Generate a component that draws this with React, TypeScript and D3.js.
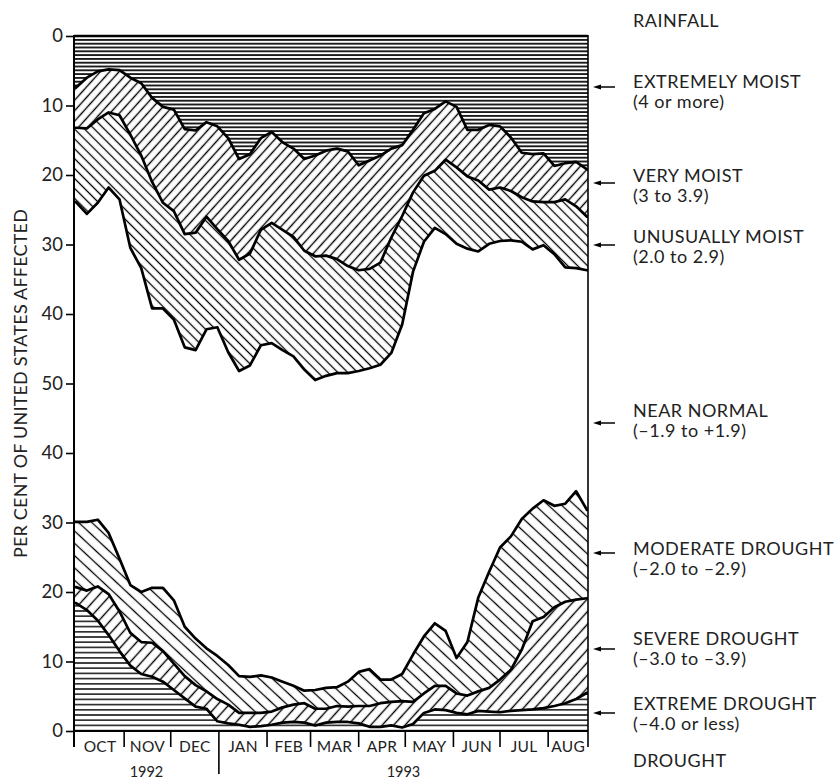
import React, { useEffect, useRef } from "react";
import * as d3 from "d3";

// weekly readings, Oct 1992 - Aug 1993 (per cent of the United States)
const weeks = d3.timeDay.range(new Date(1992, 9, 1), new Date(1993, 7, 27), 7);

const extremelyMoist = [7.4, 6.0, 5.1, 4.8, 4.9, 6.0, 6.8, 8.9, 10.2, 10.6, 13.4, 13.6, 12.4, 13.0, 14.7, 17.7, 17.0, 14.7, 13.8, 15.3, 16.2, 17.7, 17.2, 16.5, 16.2, 16.6, 18.6, 17.9, 17.2, 16.2, 15.7, 13.5, 11.1, 10.5, 9.4, 10.2, 13.5, 13.5, 12.8, 13.0, 14.6, 16.8, 17.0, 16.9, 18.7, 18.3, 18.1, 19.2];
const veryMoist = [5.8, 7.3, 6.9, 6.2, 6.5, 8.2, 10.4, 12.1, 13.8, 14.6, 15.1, 14.7, 13.6, 14.8, 14.8, 14.5, 14.3, 13.2, 13.1, 12.6, 12.7, 13.2, 14.5, 15.1, 15.9, 16.5, 15.1, 15.6, 15.4, 12.8, 10.2, 9.0, 9.0, 8.9, 8.4, 8.7, 6.7, 7.3, 9.3, 8.8, 7.7, 6.4, 6.8, 7.0, 5.2, 5.2, 6.4, 6.8];
const unusuallyMoist = [10.7, 12.3, 12.0, 10.8, 12.1, 16.3, 16.2, 18.2, 15.2, 15.6, 16.3, 16.9, 16.2, 14.1, 16.0, 16.0, 16.1, 16.6, 17.3, 17.3, 17.2, 17.1, 17.8, 17.3, 16.4, 15.4, 14.5, 14.3, 14.7, 16.6, 15.6, 11.4, 9.5, 8.2, 10.7, 11.0, 10.4, 10.2, 7.8, 7.7, 7.1, 6.4, 6.9, 6.2, 7.5, 9.8, 8.9, 7.7];

const extremeDrought = [18.4, 17.4, 15.9, 13.8, 11.5, 9.4, 8.2, 7.8, 7.1, 5.9, 4.7, 3.5, 3.2, 1.4, 1.1, 0.9, 0.6, 0.7, 0.9, 1.2, 1.3, 1.2, 0.8, 1.2, 1.3, 1.3, 1.1, 0.6, 0.6, 0.8, 0.5, 1.0, 2.6, 3.1, 3.0, 2.6, 2.4, 2.9, 2.8, 2.7, 2.9, 3.0, 3.1, 3.3, 3.6, 4.0, 4.6, 5.5];
const severeDrought = [2.3, 2.8, 4.9, 5.9, 5.7, 4.7, 4.6, 4.9, 4.4, 3.8, 3.2, 3.1, 2.5, 3.2, 2.7, 1.7, 2.0, 1.9, 1.9, 2.2, 2.5, 2.8, 2.4, 2.0, 2.3, 2.2, 2.5, 3.0, 3.4, 3.4, 3.8, 3.2, 2.8, 3.4, 3.5, 2.8, 2.7, 2.8, 3.4, 4.7, 5.9, 8.7, 12.7, 13.1, 14.2, 14.6, 14.3, 13.6];
const moderateDrought = [9.4, 9.9, 9.6, 8.8, 7.6, 6.9, 7.2, 7.9, 9.1, 9.1, 7.1, 6.7, 6.2, 6.2, 5.7, 5.3, 5.2, 5.4, 4.9, 3.7, 2.7, 1.8, 2.7, 3.0, 2.7, 3.6, 4.9, 5.3, 3.4, 3.2, 3.9, 6.8, 8.2, 9.0, 7.9, 5.1, 7.7, 13.5, 16.7, 19.0, 19.2, 18.8, 16.2, 16.8, 14.6, 14.1, 15.6, 12.7];

const wetTicks = [0, 10, 20, 30, 40, 50];
const dryTicks = [0, 10, 20, 30, 40];

const legendLabels = ["EXTREMELY MOIST", "VERY MOIST", "UNUSUALLY MOIST", "NEAR NORMAL", "MODERATE DROUGHT", "SEVERE DROUGHT", "EXTREME DROUGHT"];
const legendRanges = ["(4 or more)", "(3 to 3.9)", "(2.0 to 2.9)", "(\u20131.9 to +1.9)", "(\u20132.0 to \u20132.9)", "(\u20133.0 to \u20133.9)", "(\u20134.0 or less)"];
// layout of the legend column (pixels)
const legendBaseline = [88, 182, 243, 417, 555, 645, 710];
const legendArrow = [87, 183, 245, 423, 553, 649, 713];

const FONT = "Lato, 'Open Sans', sans-serif";

const App = () => {
  const svgRef = useRef<SVGSVGElement>(null);

  useEffect(() => {
    const svg = d3.select(svgRef.current);
    svg.selectAll("*").remove();

    const left = 74;
    const right = 588;
    const top = 36;
    const bottom = 731;
    const mid = (top + bottom) / 2;

    const x = d3
      .scaleTime()
      .domain([weeks[0], weeks[weeks.length - 1]])
      .range([left + 2, right - 1]);
    const wetY = d3.scaleLinear().domain([0, 50]).range([top, mid]);
    const dryY = d3.scaleLinear().domain([0, 50]).range([bottom, mid]);

    const rows = weeks.map((d, i) => ({
      date: d,
      extremelyMoist: extremelyMoist[i],
      veryMoist: veryMoist[i],
      unusuallyMoist: unusuallyMoist[i],
      extremeDrought: extremeDrought[i],
      severeDrought: severeDrought[i],
      moderateDrought: moderateDrought[i],
    }));

    const wetStack = d3.stack().keys(["extremelyMoist", "veryMoist", "unusuallyMoist"])(rows as any);
    const dryStack = d3.stack().keys(["extremeDrought", "severeDrought", "moderateDrought"])(rows as any);

    // hatch patterns
    const defs = svg.append("defs");
    const hatch = (id, angle, gap, width) => {
      const p = defs
        .append("pattern")
        .attr("id", id)
        .attr("patternUnits", "userSpaceOnUse")
        .attr("width", gap)
        .attr("height", gap)
        .attr("patternTransform", `rotate(${angle})`);
      p.append("line")
        .attr("x1", -1)
        .attr("x2", gap + 1)
        .attr("y1", gap / 2)
        .attr("y2", gap / 2)
        .attr("stroke", "#000")
        .attr("stroke-width", width);
    };
    hatch("extremelyMoist", 0, 3.8, 1.7);
    hatch("veryMoist", -48, 7, 1.4);
    hatch("unusuallyMoist", 45, 7, 1.3);
    hatch("extremeDrought", 0, 5.2, 1.4);
    hatch("severeDrought", -48, 8.5, 1.4);
    hatch("moderateDrought", 43, 9, 1.3);

    const clip = defs.append("clipPath").attr("id", "plot");
    clip.append("rect").attr("x", left).attr("y", top).attr("width", right - left).attr("height", bottom - top);

    const g = svg.append("g").attr("clip-path", "url(#plot)");

    const wetArea = d3
      .area<any>()
      .x((d) => x(d.data.date))
      .y0((d) => wetY(d[0]))
      .y1((d) => wetY(d[1]));
    const dryArea = d3
      .area<any>()
      .x((d) => x(d.data.date))
      .y0((d) => dryY(d[0]))
      .y1((d) => dryY(d[1]));

    // extend the stacks flush to both frame edges
    const padSeries = (s) => {
      const first = s[0];
      const last = s[s.length - 1];
      const a: any = [first[0], first[1]];
      a.data = { date: x.invert(left) };
      const b: any = [last[0], last[1]];
      b.data = { date: x.invert(right) };
      return [a, ...s, b];
    };

    wetStack.forEach((s) => {
      g.append("path")
        .attr("d", wetArea(padSeries(s)))
        .attr("fill", `url(#${s.key})`);
    });
    dryStack.forEach((s) => {
      g.append("path")
        .attr("d", dryArea(padSeries(s)))
        .attr("fill", `url(#${s.key})`);
    });

    const wetLine = d3
      .line<any>()
      .x((d) => x(d.data.date))
      .y((d) => wetY(d[1]));
    const dryLine = d3
      .line<any>()
      .x((d) => x(d.data.date))
      .y((d) => dryY(d[1]));

    wetStack.forEach((s) => {
      g.append("path")
        .attr("d", wetLine(padSeries(s)))
        .attr("fill", "none")
        .attr("stroke", "#000")
        .attr("stroke-width", 2.7)
        .attr("stroke-linejoin", "round");
    });
    dryStack.forEach((s) => {
      g.append("path")
        .attr("d", dryLine(padSeries(s)))
        .attr("fill", "none")
        .attr("stroke", "#000")
        .attr("stroke-width", 2.7)
        .attr("stroke-linejoin", "round");
    });

    // frame
    svg.append("line").attr("x1", left).attr("x2", right).attr("y1", top).attr("y2", top).attr("stroke", "#000").attr("stroke-width", 2.5);
    svg.append("line").attr("x1", left).attr("x2", right).attr("y1", bottom).attr("y2", bottom).attr("stroke", "#000").attr("stroke-width", 2);
    svg.append("line").attr("x1", left).attr("x2", left).attr("y1", top - 1).attr("y2", bottom + 16).attr("stroke", "#000").attr("stroke-width", 2);
    svg.append("line").attr("x1", right).attr("x2", right).attr("y1", top - 1).attr("y2", bottom + 16).attr("stroke", "#000").attr("stroke-width", 1.6);

    // y axes
    const styleAxis = (sel) => {
      sel.select(".domain").remove();
      sel.selectAll(".tick line").attr("stroke", "#000").attr("stroke-width", 1.6);
      sel.selectAll(".tick text")
        .attr("font-family", FONT)
        .attr("font-size", 18.5)
        .attr("fill", "#222")
        .attr("x", -11);
    };
    svg.append("g")
      .attr("transform", `translate(${left},0)`)
      .call(d3.axisLeft(wetY).tickValues(wetTicks).tickSize(8).tickSizeOuter(0))
      .call(styleAxis);
    svg.append("g")
      .attr("transform", `translate(${left},0)`)
      .call(d3.axisLeft(dryY).tickValues(dryTicks).tickSize(8).tickSizeOuter(0))
      .call(styleAxis);

    svg.append("text")
      .attr("transform", `translate(27,${mid}) rotate(-90)`)
      .attr("text-anchor", "middle")
      .attr("font-family", FONT)
      .attr("font-size", 18)
      .attr("letter-spacing", 0.2)
      .attr("fill", "#222")
      .text("PER CENT OF UNITED STATES AFFECTED");

    // month ticks and labels
    const months = d3.timeMonth.range(new Date(1992, 9, 1), new Date(1993, 8, 1));
    const xAt = (d) => Math.min(right, Math.max(left, x(d)));
    months.forEach((m, i) => {
      const x0 = xAt(m);
      const x1 = i < months.length - 1 ? xAt(months[i + 1]) : right;
      if (i > 0) {
        const isYear = m.getMonth() === 0;
        svg.append("line")
          .attr("x1", x0).attr("x2", x0)
          .attr("y1", bottom).attr("y2", isYear ? bottom + 43 : bottom + 16)
          .attr("stroke", "#000").attr("stroke-width", 1.6);
      }
      svg.append("text")
        .attr("x", (x0 + x1) / 2)
        .attr("y", bottom + 21)
        .attr("text-anchor", "middle")
        .attr("font-family", FONT)
        .attr("font-size", 15.5)
        .attr("letter-spacing", 0.3)
        .attr("fill", "#222")
        .text(d3.timeFormat("%b")(m).toUpperCase());
    });
    const jan = x(new Date(1993, 0, 1));
    [["1992", (left + jan) / 2], ["1993", (jan + right) / 2]].forEach(([t, cx]) => {
      svg.append("text")
        .attr("x", cx)
        .attr("y", bottom + 46)
        .attr("text-anchor", "middle")
        .attr("font-family", FONT)
        .attr("font-size", 14.5)
        .attr("fill", "#222")
        .text(t as string);
    });

    // legend column
    const lx = 633;
    const txt = (t, y) =>
      svg.append("text")
        .attr("x", lx)
        .attr("y", y)
        .attr("font-family", FONT)
        .attr("font-size", 18)
        .attr("letter-spacing", 0.5)
        .attr("fill", "#222")
        .text(t);
    txt("RAINFALL", 27);
    txt("DROUGHT", 767);
    legendLabels.forEach((label, i) => {
      txt(label, legendBaseline[i]);
      txt(legendRanges[i], legendBaseline[i] + 20);
      const ay = legendArrow[i];
      svg.append("line")
        .attr("x1", 598).attr("x2", 615)
        .attr("y1", ay).attr("y2", ay)
        .attr("stroke", "#000").attr("stroke-width", 1.5);
      svg.append("path")
        .attr("d", `M593,${ay} L601,${ay - 2.5} L601,${ay + 2.5} Z`)
        .attr("fill", "#000");
    });
  }, []);

  return (
    <svg
      ref={svgRef}
      width={840}
      height={779}
      style={{ position: "absolute", left: 0, top: 0, background: "#fff" }}
    />
  );
};

export default App;
